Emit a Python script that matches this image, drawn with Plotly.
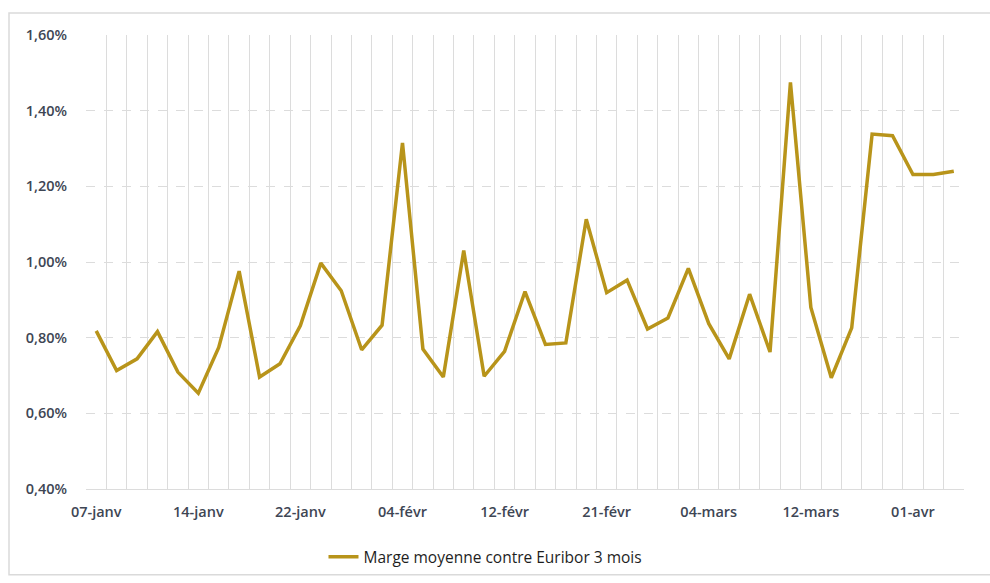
import plotly.graph_objects as go

# Marge moyenne contre Euribor 3 mois (en %), une valeur par observation
marge = [
    0.818, 0.713, 0.744, 0.816, 0.709, 0.653, 0.774, 0.976, 0.696, 0.731,
    0.832, 0.997, 0.924, 0.768, 0.833, 1.315, 0.770, 0.696, 1.030, 0.698,
    0.764, 0.922, 0.782, 0.786, 1.113, 0.919, 0.952, 0.823, 0.852, 0.983,
    0.837, 0.744, 0.915, 0.762, 1.475, 0.880, 0.694, 0.826, 1.338, 1.334,
    1.231, 1.231, 1.240,
]
# Libellés de l'axe des dates (un libellé toutes les 5 observations)
label_pos = [0, 5, 10, 15, 20, 25, 30, 35, 40]
label_text = ["07-janv", "14-janv", "22-janv", "04-févr", "12-févr",
              "21-févr", "04-mars", "12-mars", "01-avr"]
serie_nom = "Marge moyenne contre Euribor 3 mois"

idx = list(range(len(marge)))
vals = [v / 100 for v in marge]

GRID = "#DCDCDC"
TXT = "#3E4654"
TICKFONT = dict(family="Open Sans", size=14.5, color=TXT, weight=600)

fig = go.Figure(
    go.Scatter(
        x=idx, y=vals, mode="lines", name=serie_nom,
        line=dict(color="#B8941A", width=3.5),
    )
)

fig.update_layout(
    width=990, height=583,
    margin=dict(l=86, r=26, t=35, b=94, autoexpand=False),
    paper_bgcolor="white", plot_bgcolor="white",
    separators=", ",
    showlegend=True,
    legend=dict(
        orientation="h", x=0.455, xanchor="center", y=-0.15, yanchor="middle",
        font=dict(family="Open Sans", size=15.5, color="#1E1E1E"),
    ),
    font=dict(family="Open Sans", color=TXT),
    shapes=[dict(
        type="rect", xref="paper", yref="paper",
        x0=-0.0877, x1=1.05, y0=-0.189, y1=1.0485,
        line=dict(color="#DADADA", width=1.5), layer="below",
    )],
)

fig.update_xaxes(
    range=[-0.5, len(marge) - 0.5], automargin=False,
    tickmode="array", tickvals=label_pos, ticktext=label_text,
    showgrid=False, zeroline=False, ticks="", ticklabelstandoff=10,
    tickfont=TICKFONT,
    minor=dict(tick0=-0.5, dtick=1, showgrid=True, gridcolor=GRID, gridwidth=1),
    showline=True, linecolor=GRID, linewidth=1,
)

fig.update_yaxes(
    range=[0.004, 0.016], automargin=False,
    tick0=0.004, dtick=0.002, tickformat=".2%",
    showgrid=True, gridcolor=GRID, griddash="dash", gridwidth=1,
    zeroline=False, ticks="", ticklabelstandoff=18,
    tickfont=TICKFONT,
)

fig.write_html("out.html")
